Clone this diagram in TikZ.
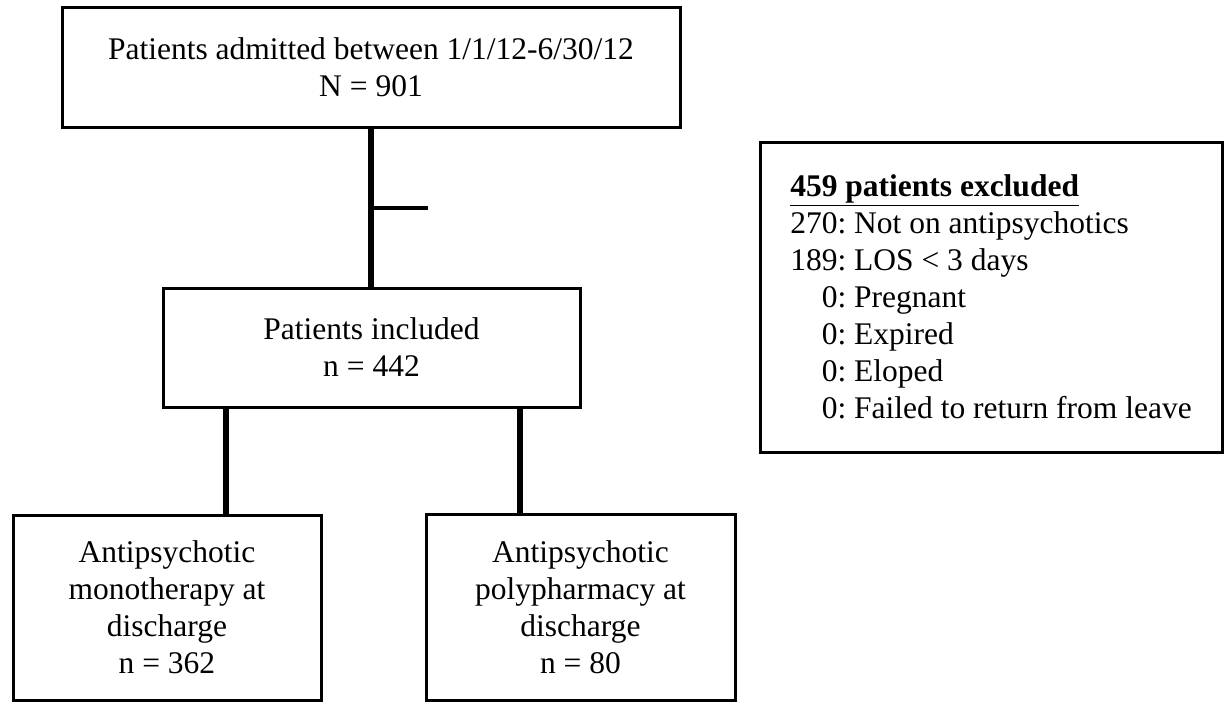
\documentclass[tikz,border=0pt]{standalone}
\usepackage{fontspec}
\setmainfont{Liberation Serif}
\begin{document}
\frenchspacing
\begin{tikzpicture}[x=1pt,y=-1pt,
  box/.style={draw=black, line width=3pt, fill=white, align=center, inner sep=0pt,
    font=\fontsize{31.5}{37}\selectfont},
  conn/.style={draw=black, line width=5.5pt},
  stubline/.style={draw=black, line width=4pt}]
\useasboundingbox[fill=white] (0,0) rectangle (1225,702);

\node[box, minimum width=618pt, minimum height=120pt] (top) at (371,67)
  {Patients admitted between 1/1/12-6/30/12\\N = 901};
\node[box, minimum width=417pt, minimum height=119pt] (mid) at (371.5,347.5)
  {Patients included\\n = 442};
\node[box, minimum width=308pt, minimum height=185pt] (lbox) at (167,607.5)
  {Antipsychotic\\monotherapy at\\discharge\\n = 362};
\node[box, minimum width=309pt, minimum height=186pt] (rbox) at (580.5,607)
  {Antipsychotic\\polypharmacy at\\discharge\\n = 80};
\node[box, align=left, minimum width=462pt, minimum height=310pt] (excl) at (991,297)
  {\underline{\textbf{459 patients excluded}}\\
   270: Not on antipsychotics\\
   189: LOS < 3 days\\
   \phantom{27}0: Pregnant\\
   \phantom{27}0: Expired\\
   \phantom{27}0: Eloped\\
   \phantom{27}0: Failed to return from leave};

\draw[conn] (top.south) -- (top.south |- mid.north);
\coordinate (stub) at (428,208);
\draw[stubline] (stub -| top.south) -- (stub);

\coordinate (cl) at (226,0);
\coordinate (cr) at (520,0);
\draw[conn] (mid.south -| cl) -- (lbox.north -| cl);
\draw[conn] (mid.south -| cr) -- (rbox.north -| cr);
\end{tikzpicture}
\end{document}
